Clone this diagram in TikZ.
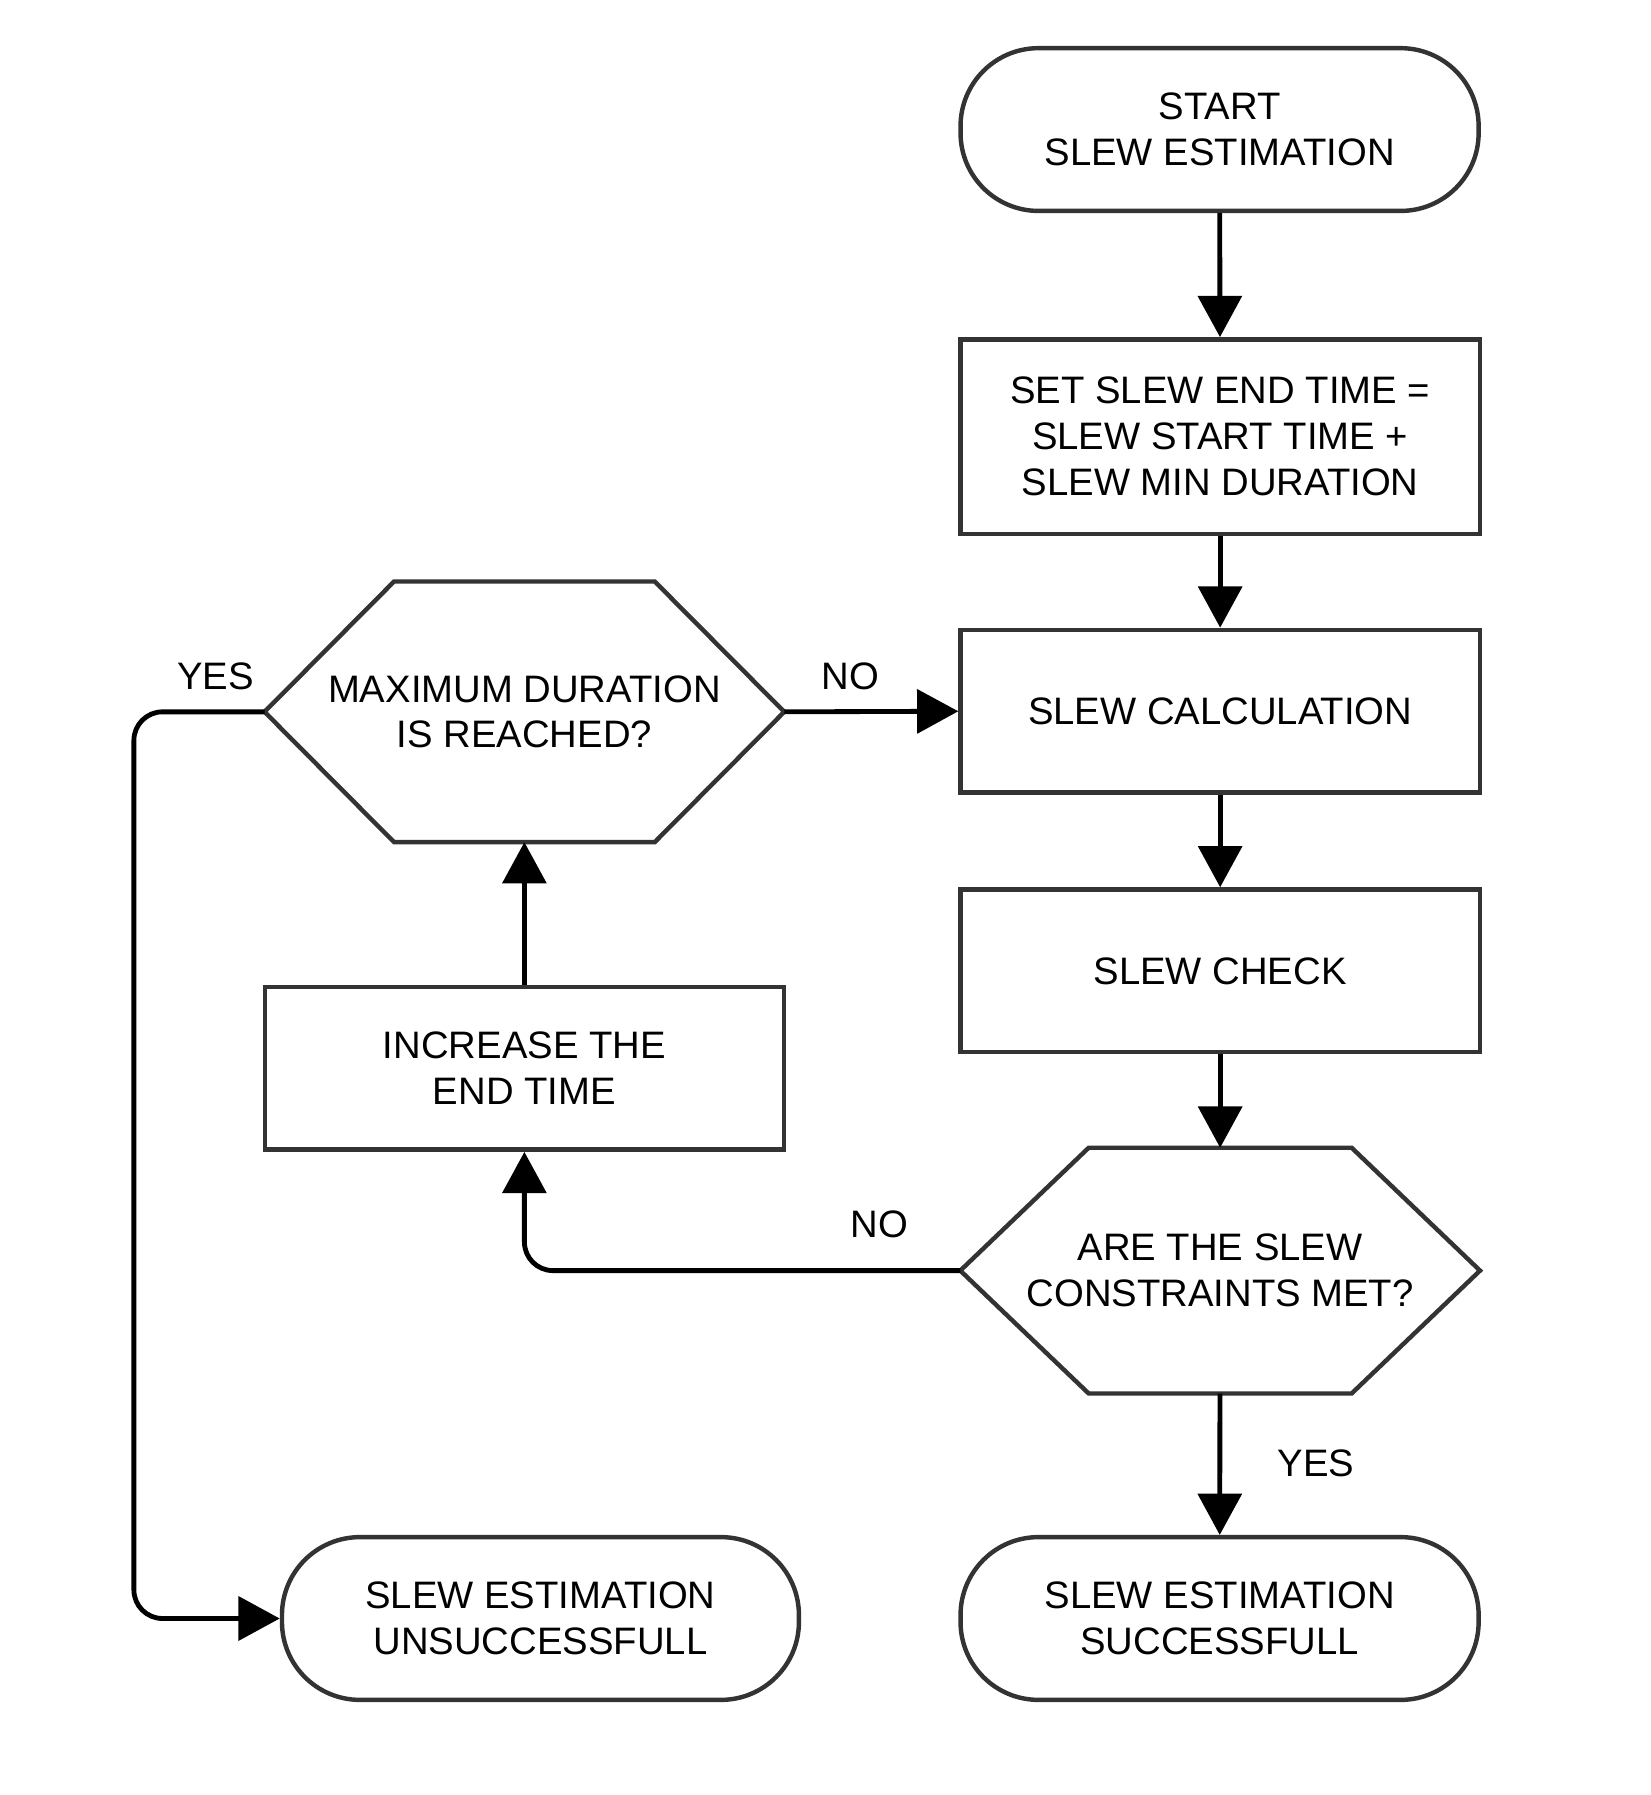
\documentclass[tikz,border=0pt]{standalone}
\usepackage{fontspec}
\setmainfont{Liberation Sans}
\usetikzlibrary{arrows.meta,positioning}

\begin{document}
\begin{tikzpicture}[
  every node/.style={font=\fontsize{9.5}{11.4}\selectfont},
  terminal/.style={draw=black!80, line width=1.1pt, rounded corners=6.8mm, minimum width=4.52cm, minimum height=1.42cm, align=center},
  process/.style={draw=black!80, line width=1.1pt, minimum width=4.53cm, minimum height=1.42cm, align=center},
  decision/.style={minimum width=4.52cm, minimum height=2.26cm, align=center},
  hexline/.style={draw=black!80, line width=1.1pt, line join=miter},
  arrow/.style={-{Triangle[width=3.8mm,length=3.6mm]}, line width=1.2pt},
  ]

\useasboundingbox (0,0) rectangle (14.4,-15.66);

% Nodes
\node[terminal] (start) at (10.64,-1.13) {START\\SLEW ESTIMATION};
\node[process, minimum height=1.70cm] (setend) at (10.645,-3.81) {SET SLEW END TIME =\\SLEW START TIME +\\SLEW MIN DURATION};
\node[process] (calc) at (10.645,-6.205) {SLEW CALCULATION};
\node[process] (check) at (10.645,-8.47) {SLEW CHECK};
\node[decision, minimum height=2.13cm] (constr) at (10.645,-11.085) {ARE THE SLEW\\CONSTRAINTS MET?};
\node[terminal] (succ) at (10.64,-14.12) {SLEW ESTIMATION\\SUCCESSFULL};
\node[decision] (maxdur) at (4.575,-6.21) {MAXIMUM DURATION\\IS REACHED?};
\node[process] (incr) at (4.575,-9.32) {INCREASE THE\\END TIME};
\node[terminal, minimum width=4.51cm] (unsucc) at (4.715,-14.12) {SLEW ESTIMATION\\UNSUCCESSFULL};

% Hexagons
\foreach \d/\s in {maxdur/1.13cm,constr/1.12cm}
  \draw[hexline] ([xshift=\s]\d.north west) -- ([xshift=-\s]\d.north east) -- (\d.east)
    -- ([xshift=-\s]\d.south east) -- ([xshift=\s]\d.south west) -- (\d.west) -- cycle;

% Arrows
\draw[arrow] (start) -- (setend);
\draw[arrow] (setend) -- (calc);
\draw[arrow] (calc) -- (check);
\draw[arrow] (check) -- (constr);
\draw[arrow] (constr) -- (succ);
\draw[arrow, rounded corners=2.5mm] (constr.west) -| (incr.south);
\draw[arrow] (incr) -- (maxdur);
\draw[arrow] (maxdur.east) -- (calc.west);
\draw[arrow, rounded corners=2.5mm] (maxdur.west) -- ++(-1.14,0) |- (unsucc.west);

% Labels
\node (yes1) at (1.88,-5.90) {YES};
\node (no1) at (7.42,-5.90) {NO};
\node (no2) at (7.67,-10.68) {NO};
\node (yes2) at (11.48,-12.77) {YES};

\end{tikzpicture}
\end{document}
